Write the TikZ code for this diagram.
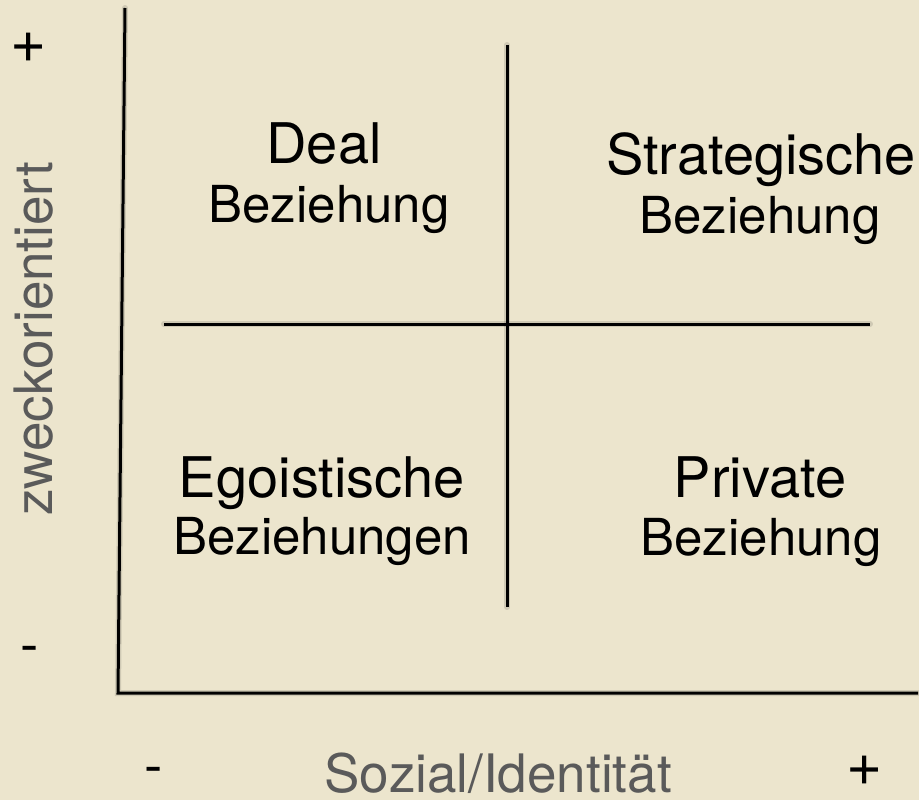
\documentclass[tikz,border=0pt]{standalone}
\usepackage{fontspec}
\setmainfont{TeX Gyre Heros}
\definecolor{bg}{HTML}{ECE5CD}
\definecolor{axisgray}{HTML}{5A5A5A}
\tikzset{
  title/.style={font=\fontsize{56}{62}\selectfont, anchor=base, inner sep=0pt, text=black},
  sub/.style={font=\fontsize{51}{58}\selectfont, anchor=base, inner sep=0pt, text=black},
  axislabel/.style={font=\fontsize{53}{60}\selectfont, anchor=base, inner sep=0pt, text=axisgray},
  plussign/.style={font=\fontsize{62}{68}\selectfont, anchor=base, inner sep=0pt, text=black},
  minussign/.style={font=\fontsize{55}{60}\selectfont, anchor=base, inner sep=0pt, text=black},
  rule/.style={line width=3pt, black},
  shade/.style={line width=6pt, black, opacity=0.12, line cap=round},
}
\begin{document}
\begin{tikzpicture}[x=1pt, y=-1pt]
\fill[bg] (0,0) rectangle (919,800);
\useasboundingbox (0,0) rectangle (919,800);
% coordinates
\coordinate (ytop) at (125,8);
\coordinate (origin) at (118,693);
\coordinate (xend) at (918,693);
\coordinate (vtop) at (507,45);
\coordinate (vbot) at (507,607);
\coordinate (hleft) at (164,324);
\coordinate (hright) at (870,324);
% shadows
\begin{scope}[shift={(1.5,3)}]
\draw[shade] (ytop) -- (origin) -- (xend);
\draw[shade] (vtop) -- (vbot);
\draw[shade] (hleft) -- (hright);
\end{scope}
% lines
\draw[rule] (ytop) -- (origin) -- (xend);
\draw[rule] (vtop) -- (vbot);
\draw[rule] (hleft) -- (hright);
% quadrant texts
\node[title] (deal) at (324,163) {Deal};
\node[sub] (dealsub) at (329,222) {Beziehung};
\node[title] (strat) at (761,174) {Strategische};
\node[sub] (stratsub) at (760,233) {Beziehung};
\node[title] (ego) at (322,497) {Egoistische};
\node[sub] (egosub) at (322,554) {Beziehungen};
\node[title] (priv) at (760,497) {Private};
\node[sub] (privsub) at (761,555) {Beziehung};
% axis labels
\node[axislabel] (xlab) at (498,792) {Sozial/Identität};
\node[axislabel, rotate=90] (ylab) at (52,339) {zweckorientiert};
% signs
\node[plussign] (yplus) at (29,63) {+};
\node[minussign] (yminus) at (30,663) {-};
\node[minussign] (xminus) at (154,784) {-};
\node[plussign] (xplus) at (865,785) {+};
\end{tikzpicture}
\end{document}
